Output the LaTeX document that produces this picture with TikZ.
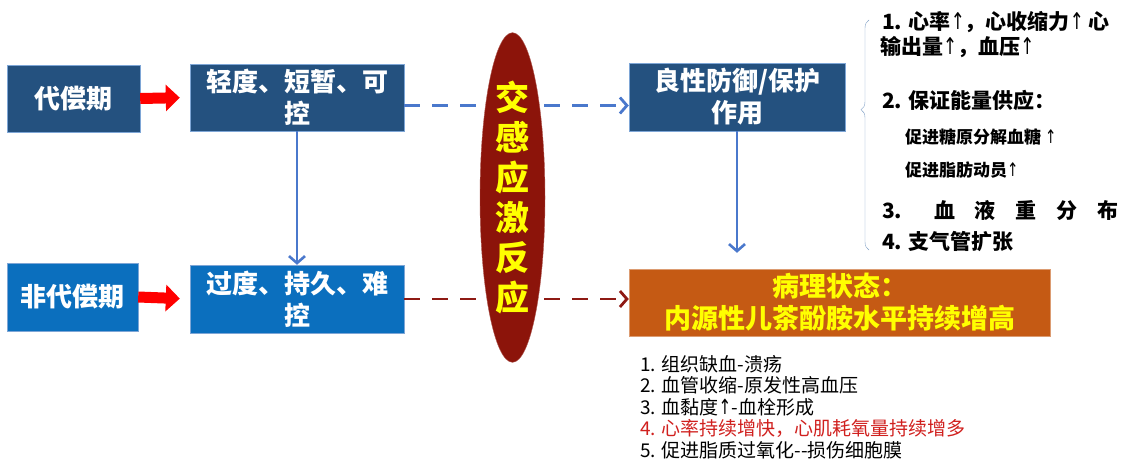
\documentclass[tikz,border=0pt]{standalone}
\usepackage{fontspec}
\setmainfont{Noto Sans CJK SC}
\newfontfamily\arrowfont{DejaVu Sans}
\usetikzlibrary{arrows.meta,shapes.geometric,decorations.pathreplacing}
\definecolor{dark-blue}{HTML}{24517F}
\definecolor{light-blue}{HTML}{0B6FBE}
\definecolor{box-line}{HTML}{7EA6D6}
\definecolor{dash-blue}{HTML}{4A78CC}
\definecolor{dash-red}{HTML}{8E1A14}
\definecolor{oval-red}{HTML}{8C140A}
\definecolor{state-orange}{HTML}{C55A14}
\definecolor{text-yellow}{HTML}{FFFF00}
\definecolor{note-red}{HTML}{D0201E}
\newcommand{\fsz}[2]{\fontsize{#1}{#2}\selectfont}
\newcommand{\upar}{{\arrowfont\mdseries\scalebox{0.8}[1.1]{↑}}}
\tikzset{
    dark-box/.style = {draw=box-line, fill=dark-blue, text=white, thin, rectangle, inner sep=2pt, align=center, font=\bfseries\fsz{26}{32}},
    light-box/.style = {dark-box, fill=light-blue},
    state-box/.style = {dark-box, fill=state-orange, draw=state-orange!60, text=text-yellow, font=\bfseries\fsz{27}{32}},
    stress-oval/.style = {ellipse, draw=oval-red!70, fill=oval-red, text=text-yellow, inner sep=0pt, align=center, font=\bfseries\fsz{34}{40}},
    red-arrow/.style = {red, line width=11pt, -{Triangle[width=26pt,length=14pt]}, shorten >=10pt},
    blue-dash/.style = {dash-blue, line width=2.8pt, dash pattern=on 16pt off 12pt, -{Straight Barb[length=7pt,width=16pt]}},
    red-dash/.style = {blue-dash, dash-red},
    blue-arrow/.style = {dash-blue, line width=2.6pt, -{Straight Barb[length=7pt,width=16pt]}},
    effect-text/.style = {anchor=west, inner sep=0pt, font=\bfseries\fsz{21}{25}},
    effect-sub/.style = {effect-text, font=\bfseries\fsz{17}{21}},
}
\begin{document}
\begin{tikzpicture}[x=1pt,y=-1pt]
\useasboundingbox (0,0) rectangle (1128,474);
\node [dark-box, minimum width=133pt, minimum height=67pt] (dcq) at (73.5,98.5) {代偿期};
\node [dark-box, minimum width=214pt, minimum height=67pt] (qd) at (297,97.5) {轻度、短暂、可\\控};
\node [light-box, minimum width=131pt, minimum height=68pt] (fdcq) at (72.5,297) {非代偿期};
\node [light-box, minimum width=214pt, minimum height=68pt] (gd) at (297,299) {过度、持久、难\\控};
\node [dark-box, minimum width=216pt, minimum height=68pt] (lx) at (737,97) {良性防御/保护\\作用};
\node [state-box, minimum width=421pt, minimum height=67pt] (bl) at (839.5,302.5) {病理状态：\\内源性儿茶酚胺水平持续增高};

\draw [red-arrow] (dcq.east) -- (qd.west);
\draw [red-arrow] (fdcq.east) -- (gd.west);
\draw [blue-arrow] (qd) -- (gd);
\draw [blue-arrow, shorten >=16pt] (lx.south) -- (lx.south |- bl.north);
\draw [blue-dash] ([yshift=-8pt]qd.east) -- ([yshift=-8pt]qd.east -| lx.west);
\draw [red-dash] (gd.east) -- (gd.east -| bl.west);

\node [stress-oval, minimum width=65pt, minimum height=317pt] (jg) at (512.5,197.5) {交\\感\\应\\激\\反\\应};

\draw [box-line!80!gray, thin, decorate, decoration={brace, amplitude=8pt, aspect=0.61}] (869,250) -- (869,20);
\node [effect-text] (e1) at (882,22) {1. 心率\upar，心收缩力\upar{} 心};
\node [effect-text] (e1b) at (880,47) {输出量\upar，血压\upar};
\node [effect-text] (e2) at (882,100) {2. 保证能量供应：};
\node [effect-sub] (e2a) at (905,137) {促进糖原分解血糖 \upar};
\node [effect-sub] (e2b) at (905,170) {促进脂肪动员\upar};
\node [effect-text, text width=236pt] (e3) at (882,210) {3.\hspace{12pt}\hfill 血\hfill 液\hfill 重\hfill 分\hfill 布};
\node [effect-text] (e4) at (882,242) {4. 支气管扩张};

\node [anchor=north west, inner sep=0pt, align=left, font=\fsz{19}{21.5}] (harm) at (640,355) {1. 组织缺血-溃疡\\2. 血管收缩-原发性高血压\\3. 血黏度\upar-血栓形成\\\textcolor{note-red}{4. 心率持续增快，心肌耗氧量持续增多}\\5. 促进脂质过氧化-{}-损伤细胞膜};
\end{tikzpicture}
\end{document}
